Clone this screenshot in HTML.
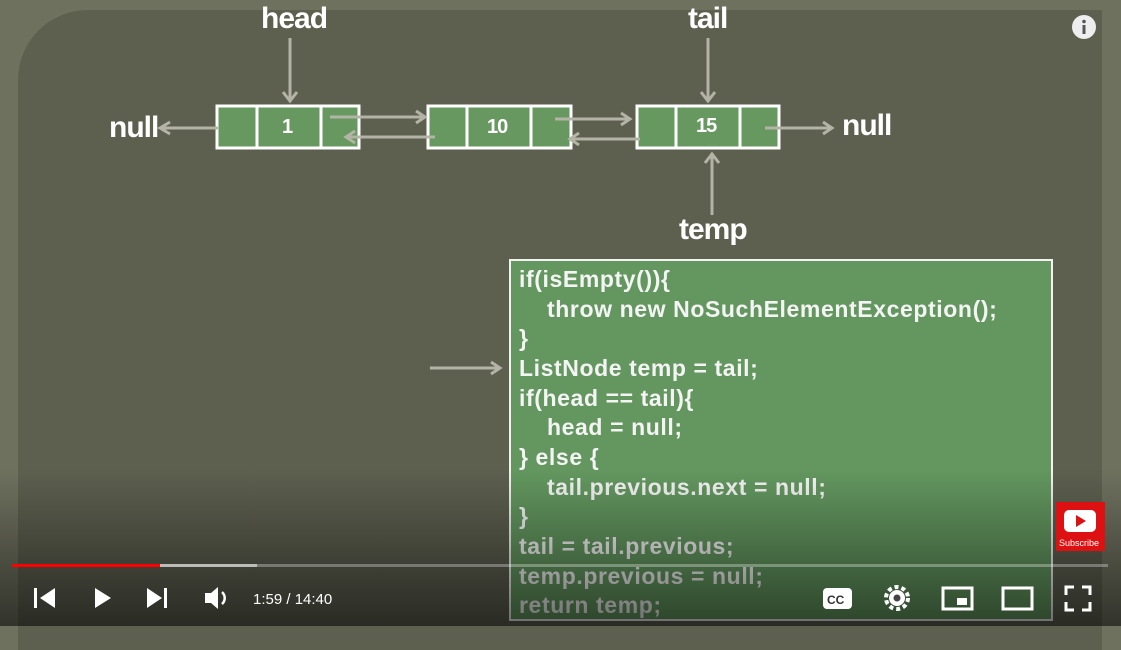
<!DOCTYPE html>
<html><head><meta charset="utf-8"><style>
html,body{margin:0;padding:0}
body{width:1121px;height:626px;position:relative;overflow:hidden;background:#6f715f;font-family:"Liberation Sans",sans-serif}
.panel{position:absolute;left:18px;top:10px;width:1084px;height:640px;background:#5d5f4f;border-top-left-radius:70px}
.t{position:absolute;color:#fff;font-weight:bold;letter-spacing:-1px}
.code{position:absolute;left:509px;top:259px;width:540px;height:358px;background:#63975f;border:2px solid #f2f2f2}
.code div{position:absolute;left:8px;color:#f4f4f4;font-size:23px;font-weight:bold;letter-spacing:0.6px;white-space:pre}
.code div.i{left:36px}
.shade{position:absolute;left:0;top:470px;width:1121px;height:156px;background:linear-gradient(rgba(0,0,0,0),rgba(0,0,0,0.55))}
</style></head><body>
<div class="panel"></div>
<svg style="position:absolute;left:0;top:0" width="1121" height="626">
<g fill="#67985f" stroke="#fff" stroke-width="3">
<rect x="217" y="106" width="142" height="42"/><rect x="428" y="106" width="143" height="42"/><rect x="637" y="106" width="142" height="42"/>
</g>
<g stroke="#fff" stroke-width="3">
<line x1="257" y1="106" x2="257" y2="148"/><line x1="321" y1="106" x2="321" y2="148"/>
<line x1="467" y1="106" x2="467" y2="148"/><line x1="531" y1="106" x2="531" y2="148"/>
<line x1="676" y1="106" x2="676" y2="148"/><line x1="740" y1="106" x2="740" y2="148"/>
</g>
<g stroke="#b3b3a6" stroke-width="3" fill="none">
<line x1="290" y1="38" x2="290" y2="100"/><polyline points="283,92 290,101 297,92"/>
<line x1="708" y1="38" x2="708" y2="100"/><polyline points="701,92 708,101 715,92"/>
<line x1="712" y1="215" x2="712" y2="154"/><polyline points="705,163 712,154 719,163"/>
<line x1="218" y1="128" x2="160" y2="128"/><polyline points="170,122 160,128 170,134"/>
<line x1="330" y1="117" x2="425" y2="117"/><polyline points="416,111 425,117 416,123"/>
<line x1="435" y1="137" x2="346" y2="137"/><polyline points="355,131 346,137 355,143"/>
<line x1="555" y1="119" x2="630" y2="119"/><polyline points="621,113 630,119 621,125"/>
<line x1="640" y1="139" x2="570" y2="139"/><polyline points="579,133 570,139 579,145"/>
<line x1="765" y1="128" x2="832" y2="128"/><polyline points="823,122 832,128 823,134"/>
<line x1="430" y1="368" x2="500" y2="368"/><polyline points="491,362 500,368 491,374"/>
</g>
</svg>
<div class="t" style="left:261px;top:2px;font-size:30px">head</div>
<div class="t" style="left:688px;top:2px;font-size:30px">tail</div>
<div class="t" style="left:679px;top:213px;font-size:30px">temp</div>
<div class="t" style="left:109px;top:111px;font-size:30px">null</div>
<div class="t" style="left:842px;top:109px;font-size:30px">null</div>
<div class="t" style="left:282px;top:116px;font-size:20px">1</div>
<div class="t" style="left:487px;top:116px;font-size:20px">10</div>
<div class="t" style="left:696px;top:115px;font-size:20px">15</div>
<div class="code">
<div style="top:5px">if(isEmpty()){</div>
<div class="i" style="top:35px">throw new NoSuchElementException();</div>
<div style="top:64px">}</div>
<div style="top:94px">ListNode temp = tail;</div>
<div style="top:124px">if(head == tail){</div>
<div class="i" style="top:153px">head = null;</div>
<div style="top:183px">} else {</div>
<div class="i" style="top:213px">tail.previous.next = null;</div>
<div style="top:242px">}</div>
<div style="top:272px">tail = tail.previous;</div>
<div style="top:302px">temp.previous = null;</div>
<div style="top:331px">return temp;</div>
</div>
<div class="shade"></div>
<div style="position:absolute;left:12px;top:564px;width:1096px;height:3px;background:rgba(255,255,255,0.3)"></div>
<div style="position:absolute;left:160px;top:564px;width:97px;height:3px;background:rgba(255,255,255,0.5)"></div>
<div style="position:absolute;left:12px;top:564px;width:148px;height:3px;background:#f00"></div>
<div style="position:absolute;left:1056px;top:502px;width:49px;height:49px;background:#d11"></div>
<svg style="position:absolute;left:1064px;top:510px" width="32" height="24"><rect x="0" y="0" width="32" height="22" rx="5" fill="#fff"/><polygon points="12,5 22,11 12,17" fill="#d11"/></svg>
<div style="position:absolute;left:1059px;top:538px;color:#fff;font-size:9px">Subscribe</div>
<svg style="position:absolute;left:1071px;top:14px" width="26" height="26"><circle cx="13" cy="13" r="12" fill="#eee"/><rect x="11.5" y="11" width="3" height="9" fill="#555"/><circle cx="13" cy="7.5" r="1.8" fill="#555"/></svg>
<svg style="position:absolute;left:0;top:580px" width="1121" height="40" fill="#fff">
<rect x="34" y="8" width="3" height="20"/><polygon points="55,8 40,18 55,28"/>
<polygon points="95,8 111,18 95,28"/>
<polygon points="147,8 162,18 147,28"/><rect x="164" y="8" width="3" height="20"/>
<polygon points="205,13 211,13 218,7 218,29 211,23 205,23"/><path d="M222,12 a8,8 0 0 1 0,12" stroke="#fff" stroke-width="2.5" fill="none"/>
<text x="253" y="24" font-size="15" font-family="Liberation Sans">1:59 / 14:40</text>
<rect x="823" y="8" width="29" height="21" rx="4"/><text x="827" y="24" font-size="12" font-weight="bold" fill="#333" font-family="Liberation Sans">CC</text>
<circle cx="897" cy="18" r="11" fill="none" stroke="#fff" stroke-width="4" stroke-dasharray="4 3"/><circle cx="897" cy="18" r="8"/><circle cx="897" cy="18" r="3.5" fill="#444"/>
<rect x="943" y="8" width="29" height="21" fill="none" stroke="#fff" stroke-width="3"/><rect x="957" y="18" width="10" height="7"/>
<rect x="1003" y="8" width="29" height="21" fill="none" stroke="#fff" stroke-width="3"/>
<path d="M1066,15 v-8 h8 M1082,7 h8 v8 M1090,22 v8 h-8 M1074,30 h-8 v-8" stroke="#fff" stroke-width="3" fill="none"/>
</svg>
</body></html>
